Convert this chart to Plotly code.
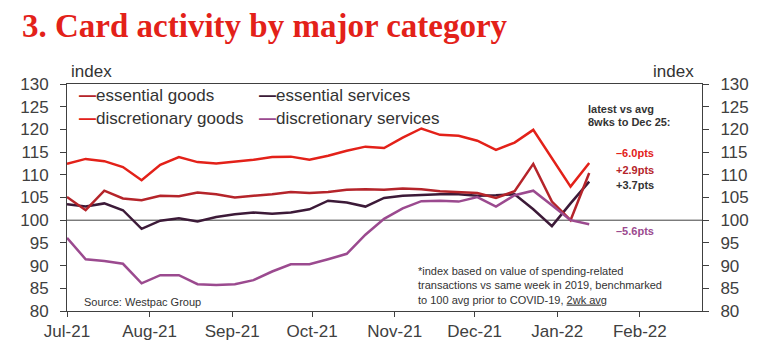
import plotly.graph_objects as go
import pandas as pd

# ---- data ----
dates = pd.date_range("2021-07-01", periods=29, freq="7D")
essential_goods = [105.1, 102.2, 106.5, 104.8, 104.4, 105.4, 105.3, 106.1, 105.7, 105.0, 105.4, 105.7, 106.2, 106.0, 106.2,
                   106.7, 106.8, 106.7, 107.0, 106.8, 106.4, 106.2, 106.0, 104.9, 106.4, 112.4, 104.1, 100.0, 110.4]
discretionary_goods = [112.4, 113.5, 113.0, 111.7, 108.8, 112.2, 113.9, 112.8, 112.5, 112.9, 113.3, 113.9, 114.0, 113.3, 114.2,
                       115.3, 116.2, 115.9, 118.2, 120.2, 118.8, 118.6, 117.5, 115.5, 117.1, 119.9, 113.5, 107.4, 112.6]
essential_services = [103.5, 103.0, 103.7, 102.2, 98.1, 99.9, 100.4, 99.7, 100.7, 101.3, 101.7, 101.4, 101.7, 102.4, 104.3,
                      103.9, 103.0, 104.9, 105.4, 105.6, 105.7, 105.7, 105.4, 105.5, 105.7, 102.4, 98.7, 103.7, 108.5]
discretionary_services = [96.1, 91.4, 91.0, 90.4, 86.1, 87.9, 87.9, 85.9, 85.7, 85.9, 86.8, 88.7, 90.3, 90.3, 91.4,
                          92.6, 96.8, 100.3, 102.6, 104.2, 104.3, 104.1, 105.1, 103.0, 105.5, 106.5, 103.3, 100.0, 99.1]

month_ticks = ["2021-07-01", "2021-08-01", "2021-09-01", "2021-10-01", "2021-11-01",
               "2021-12-01", "2022-01-01", "2022-02-01"]
month_labels = ["Jul-21", "Aug-21", "Sep-21", "Oct-21", "Nov-21", "Dec-21", "Jan-22", "Feb-22"]

series_names = ["essential goods", "essential services", "discretionary goods", "discretionary services"]
changes = ["\u20136.0pts", "+2.9pts", "+3.7pts", "\u20135.6pts"]

C_EG = "#b5242a"
C_DG = "#e32119"
C_ES = "#3c1a38"
C_DS = "#9b4a8f"
TXT = "#333333"
AX = "#404040"
FONT = "Liberation Sans, Arial, sans-serif"

OFF = 8  # page body margin
W, H = 769 - 2 * OFF, 361 - 2 * OFF
L, R, T, B = 61 - OFF, 705 - OFF, 84 - OFF, 314 - OFF


def px(xp):
    return (xp - OFF - L) / (R - L)


def py(yp):
    return (B - (yp - OFF)) / (B - T)


fig = go.Figure()
fig.add_trace(go.Scatter(x=dates, y=discretionary_services, mode="lines", name=series_names[3],
                         line=dict(color=C_DS, width=2.5), yaxis="y2"))
fig.add_trace(go.Scatter(x=dates, y=essential_services, mode="lines", name=series_names[1],
                         line=dict(color=C_ES, width=2.5)))
fig.add_trace(go.Scatter(x=dates, y=essential_goods, mode="lines", name=series_names[0],
                         line=dict(color=C_EG, width=2.5)))
fig.add_trace(go.Scatter(x=dates, y=discretionary_goods, mode="lines", name=series_names[2],
                         line=dict(color=C_DG, width=2.5)))

fig.add_shape(type="line", xref="paper", x0=0, x1=1, yref="y", y0=100, y1=100,
              line=dict(color=AX, width=1), layer="below")

ann = []
# title
ann.append(dict(text="<b>3. Card activity by major category</b>", xref="paper", yref="paper",
                x=px(13), y=py(25), xanchor="left", yanchor="middle", showarrow=False,
                font=dict(family="Liberation Serif, Times New Roman, serif", size=33, color="#e32119")))
# axis titles
ann.append(dict(text="index", xref="paper", yref="paper", x=px(63), y=py(71), xanchor="left",
                yanchor="middle", showarrow=False, font=dict(family=FONT, size=17, color=TXT)))
ann.append(dict(text="index", xref="paper", yref="paper", x=px(699), y=py(71), xanchor="right",
                yanchor="middle", showarrow=False, font=dict(family=FONT, size=17, color=TXT)))
# custom legend
leg = [(series_names[0], C_EG, 71, 96), (series_names[1], C_ES, 254, 96),
       (series_names[2], C_DG, 71, 119), (series_names[3], C_DS, 254, 119)]
for name, col, xx, yy in leg:
    ann.append(dict(text=f"<span style='color:{col}'><b>\u2014</b></span>{name}", xref="paper", yref="paper",
                    x=px(xx), y=py(yy), xanchor="left", yanchor="middle", showarrow=False,
                    font=dict(family=FONT, size=17, color=TXT)))
# right-side notes
ann.append(dict(text="<b>latest vs avg</b>", xref="paper", yref="paper", x=px(587), y=py(109),
                xanchor="left", yanchor="middle", showarrow=False, font=dict(family=FONT, size=11, color=TXT)))
ann.append(dict(text="<b>8wks to Dec 25:</b>", xref="paper", yref="paper", x=px(587), y=py(122),
                xanchor="left", yanchor="middle", showarrow=False, font=dict(family=FONT, size=11, color=TXT)))
for txt, col, yy in [(changes[0], C_DG, 154), (changes[1], C_EG, 171), (changes[2], TXT, 186), (changes[3], C_DS, 233)]:
    ann.append(dict(text=f"<b>{txt}</b>", xref="paper", yref="paper", x=px(616), y=py(yy),
                    xanchor="left", yanchor="middle", showarrow=False, font=dict(family=FONT, size=11, color=col)))
# footnote
ann.append(dict(text="*index based on value of spending-related<br>transactions vs same week in 2019, benchmarked<br>"
                     "to 100 avg prior to COVID-19, <span style='text-decoration:underline'>2wk avg</span>",
                xref="paper", yref="paper", x=px(415), y=py(288), xanchor="left", yanchor="middle",
                align="left", showarrow=False, font=dict(family=FONT, size=11, color=TXT)))
ann.append(dict(text="Source: Westpac Group", xref="paper", yref="paper", x=px(76), y=py(305),
                xanchor="left", yanchor="middle", showarrow=False, font=dict(family=FONT, size=11, color=TXT)))

yax_common = dict(range=[80, 130], dtick=5, tick0=80, ticks="outside", ticklen=6, tickcolor=AX,
                  showline=True, linecolor=AX, linewidth=1, showgrid=False, zeroline=False,
                  tickfont=dict(family=FONT, size=17, color=AX), ticklabelstandoff=8)

fig.update_layout(
    width=W, height=H,
    margin=dict(l=L, r=W - R, t=T, b=H - B, pad=0),
    paper_bgcolor="white", plot_bgcolor="white",
    showlegend=False,
    xaxis=dict(range=["2021-07-01", "2022-02-24 08:00"], tickvals=month_ticks, ticktext=month_labels,
               ticks="outside", ticklen=5, tickcolor=AX, showline=True, linecolor=AX, linewidth=1,
               mirror=True, showgrid=False, zeroline=False,
               tickfont=dict(family=FONT, size=17, color=AX)),
    yaxis=dict(side="left", **yax_common),
    yaxis2=dict(side="right", overlaying="y", matches="y", **yax_common),
    annotations=ann,
)

fig.write_html("out.html")
